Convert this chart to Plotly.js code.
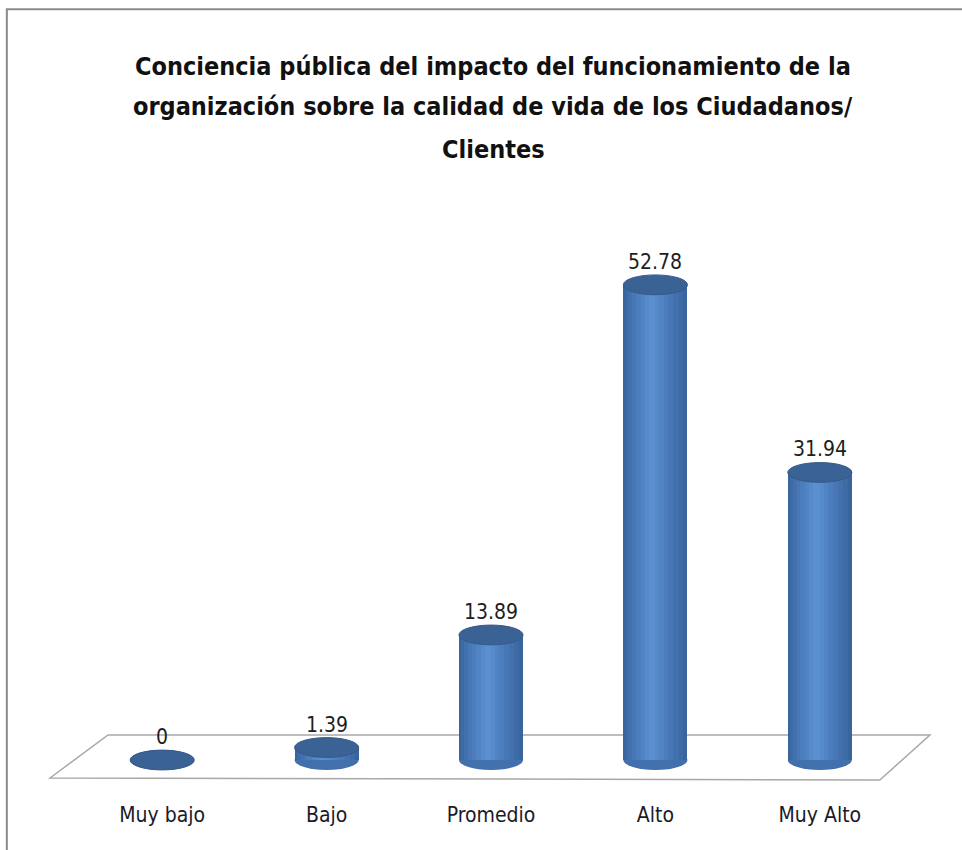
<!DOCTYPE html>
<html><head><meta charset="utf-8">
<script src="https://cdn.plot.ly/plotly-3.0.1.min.js"></script>
<style>html,body{margin:0;padding:0;background:#fff}#chart{width:962px;height:850px}</style>
</head><body><div id="chart"></div>
<script>
const categories = ["Muy bajo", "Bajo", "Promedio", "Alto", "Muy Alto"];
const values = [0, 1.39, 13.89, 52.78, 31.94];
const labels = ["0", "1.39", "13.89", "52.78", "31.94"];
const titleLines = [
  "Conciencia pública del impacto del funcionamiento de la",
  "organización sobre la calidad de vida de los Ciudadanos/",
  "Clientes"
];

const FONT = "'DejaVu Sans Condensed', 'Liberation Sans Narrow', Arial, sans-serif";
const idx = categories.map((c, i) => i);
const W = 0.39;
const capH = 1.1;

// cylinder shading layers (wide -> narrow), highlight slightly left of centre
const layers = [
  {w: W,        c: "#3a649c", o: 0},
  {w: W * 0.90, c: "#3e6ba6", o: -0.005},
  {w: W * 0.78, c: "#4271ae", o: -0.01},
  {w: W * 0.64, c: "#4777b6", o: -0.015},
  {w: W * 0.50, c: "#4c7ebe", o: -0.02},
  {w: W * 0.36, c: "#5184c5", o: -0.02},
  {w: W * 0.22, c: "#568acb", o: -0.02},
  {w: W * 0.10, c: "#5a8fd0", o: -0.02}
];
const traces = layers.map(l => ({
  type: "bar", x: idx.map(i => i + l.o), y: values, width: l.w,
  marker: {color: l.c, line: {width: 0}},
  hoverinfo: "skip", showlegend: false
}));

const shapes = [];
// border
shapes.push({type: "rect", xref: "paper", yref: "paper", x0: -0.089, x1: 1.2, y0: -0.3, y1: 1.318,
  line: {color: "#8a8a8a", width: 2}, fillcolor: "rgba(0,0,0,0)", layer: "below"});
// floor (paper coords so it is not clipped by the plot area)
shapes.push({type: "path", xref: "paper", yref: "paper", layer: "below",
  path: "M -0.0365 0.0367 L 0.0341 0.1083 L 1.034 0.1083 L 0.973 0.0333 Z",
  line: {color: "#a8a8a8", width: 1.5}, fillcolor: "#ffffff"});
idx.forEach(i => {
  const v = values[i];
  // bottom ellipse (rounded base)
  shapes.push({type: "circle", xref: "x", yref: "y", layer: "below",
    x0: i - W / 2, x1: i + W / 2, y0: -capH, y1: capH,
    fillcolor: "#4170ad", line: {width: 0}});
  // top cap
  shapes.push({type: "circle", xref: "x", yref: "y", layer: "above",
    x0: i - W / 2, x1: i + W / 2, y0: v - capH, y1: v + capH,
    fillcolor: "#3a6294", line: {color: "#355a8a", width: 1}});
});

const annotations = idx.map(i => ({
  x: i, y: values[i], xref: "x", yref: "y", text: labels[i], showarrow: false,
  yshift: 23, font: {family: FONT, size: 21, color: "#1e1e1e"}
}));
const titleY = [1.25, 1.183, 1.1117];
titleLines.forEach((t, k) => annotations.push({
  x: 0.503, y: titleY[k], xref: "paper", yref: "paper", text: "<b>" + t + "</b>",
  showarrow: false, font: {family: FONT, size: 25, color: "#111"}
}));

const layout = {
  width: 962, height: 850,
  margin: {l: 80, r: 60, t: 200, b: 50},
  paper_bgcolor: "#fff", plot_bgcolor: "rgba(0,0,0,0)",
  barmode: "overlay", bargap: 0,
  xaxis: {range: [-0.5, 4.5], tickmode: "array", tickvals: idx, ticktext: categories,
    showgrid: false, zeroline: false, showline: false, ticks: "",
    tickfont: {family: FONT, size: 21, color: "#1a1a2a"}, fixedrange: true},
  yaxis: {range: [-4.44, 62.2], showgrid: false, zeroline: false, showline: false,
    showticklabels: false, ticks: "", fixedrange: true},
  shapes: shapes, annotations: annotations
};
Plotly.newPlot("chart", traces, layout, {displayModeBar: false, staticPlot: true});
</script></body></html>
